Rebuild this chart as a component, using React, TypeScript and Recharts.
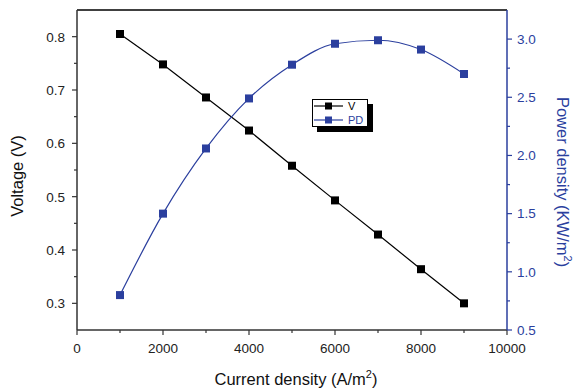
import React from 'react'
import { LineChart, Line, XAxis, YAxis, ReferenceLine, Legend, Label } from 'recharts'

const CURRENT = [1000, 2000, 3000, 4000, 5000, 6000, 7000, 8000, 9000]
const VOLTAGE = [0.805, 0.748, 0.686, 0.624, 0.558, 0.493, 0.429, 0.364, 0.300]
const POWER = [0.80, 1.50, 2.06, 2.49, 2.78, 2.96, 2.99, 2.91, 2.70]

const X_TICKS = [0, 1000, 2000, 3000, 4000, 5000, 6000, 7000, 8000, 9000, 10000]
const X_MAJOR = [0, 2000, 4000, 6000, 8000, 10000]
const V_TICKS = [0.3, 0.35, 0.4, 0.45, 0.5, 0.55, 0.6, 0.65, 0.7, 0.75, 0.8]
const V_MAJOR = [0.3, 0.4, 0.5, 0.6, 0.7, 0.8]
const P_TICKS = [0.5, 0.75, 1.0, 1.25, 1.5, 1.75, 2.0, 2.25, 2.5, 2.75, 3.0]
const P_MAJOR = [0.5, 1.0, 1.5, 2.0, 2.5, 3.0]

const SERIES = [
  { key: 'v', name: 'V', color: '#000' },
  { key: 'pd', name: 'PD', color: '#2b3f9e' },
]

const data = CURRENT.map((c, i) => ({ c, v: VOLTAGE[i], pd: POWER[i] }))

const BLUE = '#2b3f9e'
const FONT = '"Liberation Sans", Arial, Helvetica, sans-serif'
const TS = 5
const TM = 3
const TICK_FS = 13.5
const TITLE_FS = 16.5

const isMajor = (list: number[], v: number) => list.some(m => Math.abs(m - v) < 1e-6)

function makeTick(side: 'left' | 'right' | 'bottom', majors: number[], color: string, fmt: (v: number) => string) {
  return (props: any) => {
    const { x, y, payload } = props
    const v = payload.value
    const major = isMajor(majors, v)
    const len = major ? 5 : 3
    if (side === 'left') {
      const ax = x + TS + TM
      return (
        <g>
          <line x1={ax} x2={ax - len} y1={y} y2={y} stroke="#333" strokeWidth={1.2} />
          {major && <text x={ax - 12} y={y} dy="0.36em" textAnchor="end" fontSize={TICK_FS} fill="#222" fontFamily={FONT}>{fmt(v)}</text>}
        </g>
      )
    }
    if (side === 'right') {
      const ax = x - TS - TM
      return (
        <g>
          <line x1={ax} x2={ax + len} y1={y} y2={y} stroke={color} strokeWidth={1.2} />
          {major && <text x={ax + 10} y={y} dy="0.36em" textAnchor="start" fontSize={TICK_FS} fill={color} fontFamily={FONT}>{fmt(v)}</text>}
        </g>
      )
    }
    const ay = y - TS - TM
    return (
      <g>
        <line x1={x} x2={x} y1={ay} y2={ay + len} stroke="#333" strokeWidth={1.2} />
        {major && <text x={x} y={ay + 23} textAnchor="middle" fontSize={TICK_FS} fill="#222" fontFamily={FONT}>{fmt(v)}</text>}
      </g>
    )
  }
}

const Square = (color: string) => (props: any) => {
  const { cx, cy } = props
  if (cx == null || cy == null) return <g />
  return <rect x={cx - 4} y={cy - 4} width={8} height={8} fill={color} />
}

const LegendBox = () => (
  <div style={{ position: 'relative', width: 61, height: 33, fontFamily: FONT, fontSize: 11 }}>
    <div style={{ position: 'absolute', left: 5, top: 5, width: 56, height: 28, background: '#000' }} />
    <div style={{ position: 'absolute', left: 0, top: 0, width: 54, height: 26, background: '#fff', border: '1px solid #000' }}>
      {SERIES.map((s, i) => (
        <div key={s.name} style={{ position: 'absolute', left: 1, top: 0 + i * 14, height: 12, display: 'flex', alignItems: 'center' }}>
          <svg width={29} height={12} style={{ display: 'block' }}>
            <line x1={0} x2={29} y1={6} y2={6} stroke={s.color} strokeWidth={1.2} />
            <rect x={11} y={2.5} width={7} height={7} fill={s.color} />
          </svg>
          <span style={{ marginLeft: 5, color: s.color, lineHeight: '12px' }}>{s.name}</span>
        </div>
      ))}
    </div>
  </div>
)

export default function App() {
  return (
    <div style={{ position: 'absolute', left: 0, top: 0, width: 578, height: 390, background: '#fff' }}>
      <LineChart width={578} height={390} data={data} margin={{ top: 10, right: 0, bottom: 0, left: 0 }}>
        <XAxis dataKey="c" type="number" domain={[0, 10000]} ticks={X_TICKS} interval={0} height={60}
               tickSize={TS} tickMargin={TM} tickLine={false} axisLine={{ stroke: '#333', strokeWidth: 1.5 }}
               tick={makeTick('bottom', X_MAJOR, '#222', v => String(v))}>
          <Label content={() => (
            <text x={296} y={385} textAnchor="middle" fontSize={TITLE_FS} fill="#111" fontFamily={FONT}>
              Current density (A/m<tspan dy={-7} fontSize={11}>2</tspan><tspan dy={7}>)</tspan>
            </text>
          )} />
        </XAxis>
        <YAxis yAxisId="v" orientation="left" width={77} domain={[0.25, 0.85]} ticks={V_TICKS} interval={0}
               tickSize={TS} tickMargin={TM} tickLine={false} axisLine={{ stroke: '#333', strokeWidth: 1.5 }}
               tick={makeTick('left', V_MAJOR, '#222', v => v.toFixed(1))}>
          <Label content={() => (
            <text x={23} y={176} transform="rotate(-90 23 176)" textAnchor="middle" fontSize={TITLE_FS} fill="#111" fontFamily={FONT}>
              Voltage (V)
            </text>
          )} />
        </YAxis>
        <YAxis yAxisId="pd" orientation="right" width={71} domain={[0.5, 3.25]} ticks={P_TICKS} interval={0}
               tickSize={TS} tickMargin={TM} tickLine={false} axisLine={{ stroke: BLUE, strokeWidth: 1.5 }}
               tick={makeTick('right', P_MAJOR, BLUE, v => v.toFixed(1))}>
          <Label content={() => (
            <text x={557} y={182} transform="rotate(90 557 182)" textAnchor="middle" fontSize={TITLE_FS} fill={BLUE} fontFamily={FONT}>
              Power density (KW/m<tspan dy={-7} fontSize={11}>2</tspan><tspan dy={7}>)</tspan>
            </text>
          )} />
        </YAxis>
        <ReferenceLine yAxisId="v" y={0.85} stroke="#000" strokeWidth={1.5} />
        <Legend layout="vertical" align="center" verticalAlign="middle"
                wrapperStyle={{ position: 'absolute', left: 312, top: 99, width: 62, height: 34 }}
                content={() => <LegendBox />} />
        <Line yAxisId="v" dataKey="v" name="V" type="linear" stroke="#000" strokeWidth={1.2}
              dot={Square('#000')} activeDot={false} isAnimationActive={false} />
        <Line yAxisId="pd" dataKey="pd" name="PD" type="monotone" stroke={BLUE} strokeWidth={1.2}
              dot={Square(BLUE)} activeDot={false} isAnimationActive={false} />
      </LineChart>
    </div>
  )
}
